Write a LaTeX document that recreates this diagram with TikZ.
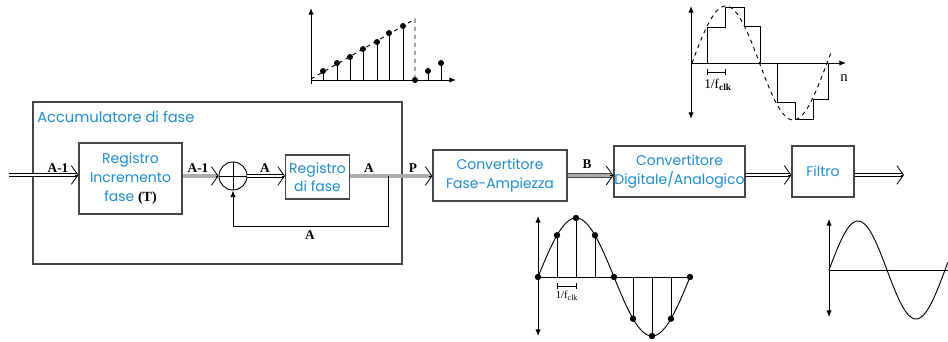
\documentclass[tikz,border=0pt]{standalone}
\usepackage{fontspec}
\setmainfont{Poppins}
\newfontfamily\seriffont{Liberation Serif}
\usetikzlibrary{arrows.meta,calc}
\definecolor{txtblue}{RGB}{30,140,210}
\definecolor{boxgray}{RGB}{70,70,70}
\begin{document}
\begin{tikzpicture}[x=0.75pt,y=-0.75pt,
  box/.style={draw=boxgray, line width=0.8pt, fill=white, text=txtblue, align=center, font=\fontsize{10.5}{14}\selectfont, inner sep=0pt},
  lbl/.style={font=\seriffont\bfseries\fontsize{10}{12}\selectfont, inner sep=0pt},
  hollow/.style={draw=black, line width=0.5pt, double=white, double distance=2pt},
  bus/.style={draw=gray!55!black, line width=0.5pt, double=gray!65, double distance=2.4pt},
  chev/.style={draw=black, line width=0.6pt, -{Straight Barb[length=5pt,width=14pt]}},
  ax/.style={line width=0.7pt, -{Latex[length=5pt,width=4pt]}},
  stem/.style={line width=0.7pt},
  clk/.style={font=\seriffont\fontsize{8}{9}\selectfont, inner sep=0pt},
]
\useasboundingbox (0,0) rectangle (948,342);

% ---------- block diagram ----------
\node[draw=boxgray, line width=0.8pt, minimum width=276.75pt, minimum height=121.5pt, inner sep=0pt] (acc) at (217.5,183) {};
\node[anchor=west, text=txtblue, font=\fontsize{11}{13}\selectfont, inner sep=0pt] (acctitle) at (37,117) {Accumulatore di fase};

\node[box, minimum width=77.25pt, minimum height=53.25pt] (inc) at (130.5,178.5) {Registro\\Incremento\\fase {\color{black}\seriffont\bfseries (T)}};
\node[circle, draw=black, line width=0.7pt, minimum size=21pt, inner sep=0pt,
  path picture={\draw[line width=0.6pt] (path picture bounding box.north) -- (path picture bounding box.south)
    (path picture bounding box.west) -- (path picture bounding box.east);}] (add) at (233,176) {};
\node[box, minimum width=48pt, minimum height=33pt, font=\fontsize{10.5}{13.5}\selectfont] (reg) at (317.5,177) {Registro\\di fase};
\node[box, minimum width=100.5pt, minimum height=38.25pt] (fa) at (500,175.5) {Convertitore\\Fase-Ampiezza};
\node[box, minimum width=98.25pt, minimum height=38.25pt] (da) at (679.5,171.5) {Convertitore\\Digitale/Analogico};
\node[box, minimum width=46.5pt, minimum height=38.25pt] (filt) at (823,171.5) {Filtro};

\coordinate (in) at (9,175);
\coordinate (out) at (904,175);
\coordinate (br) at (388,176);

\coordinate (t1) at (in -| inc.west);
\coordinate (t2) at (add.west);
\coordinate (t3) at (reg.west |- add);
\coordinate (t4) at (fa.west |- add);
\coordinate (t5) at (fa.east -| da.west);
\coordinate (t6) at (filt.west |- in);

\draw[hollow] (in) -- ($(t1)+(-1,0)$);
\draw[chev] ($(t1)+(-3,0)$) -- (t1);
\draw[bus] (inc.east |- add) -- ($(t2)+(-1,0)$);
\draw[chev] ($(t2)+(-3,0)$) -- (t2);
\draw[hollow] (add.east) -- ($(t3)+(-1,0)$);
\draw[chev] ($(t3)+(-3,0)$) -- (t3);
\draw[bus] (reg.east |- add) -- ($(t4)+(-1,0)$);
\draw[chev] ($(t4)+(-3,0)$) -- (t4);
\draw[line width=0.6pt, -{Latex[length=5pt,width=4pt]}] (br) -- ++(0,50) -| (add.south);
\draw[bus] (fa.east) -- ($(t5)+(-1,0)$);
\draw[chev] ($(t5)+(-3,0)$) -- (t5);
\draw[hollow] (da.east |- in) -- ($(t6)+(-1,0)$);
\draw[chev] ($(t6)+(-3,0)$) -- (t6);
\draw[hollow] (filt.east |- in) -- ($(out)+(-1,0)$);
\draw[chev] ($(out)+(-3,0)$) -- (out);

\node[lbl] (l1) at (58,168) {A-1};
\node[lbl] (l2) at (198,168) {A-1};
\node[lbl] (l3) at (265,168) {A};
\node[lbl] (l4) at (369,168) {A};
\node[lbl] (l5) at (413,168) {P};
\node[lbl] (l6) at (310,235) {A};
\node[lbl] (l7) at (587,164) {B};

% ---------- ramp graph ----------
\draw[ax] (311,84) -- (311,8);
\draw[ax] (311,80) -- (456,80);
\foreach \x/\y in {323/71,337/63,350/57,363/49,377/42,389/33,403/26,428/71,441/63}{
  \draw[stem] (\x,80) -- (\x,\y);
  \fill (\x,\y) circle (3);
}
\draw[dashed, line width=0.7pt] (311,79) -- (415,19) -- (415,80);
\fill (415,80) circle (3);

% ---------- staircase graph ----------
\draw[ax] (691,63) -- (691,6);
\draw[ax] (691,63) -- (691,119);
\draw[ax] (691,63) -- (846,63);
\draw[dashed, line width=0.7pt] plot[domain=0:372, samples=80, smooth] ({692+\x/360*135},{63-57*sin(\x)});
\draw[line width=0.6pt] (707,63) -- (707,27) -- (725,27) -- (725,7) -- (744,7) -- (744,26) -- (760,26) -- (760,63)
  (777,63) -- (777,102) -- (795,102) -- (795,119) -- (813,119) -- (813,99) -- (828,99) -- (828,63);
\draw[line width=0.6pt] (707,69) -- (707,75) (707,72) -- (725,72) (725,69) -- (725,75);
\node[clk, font=\seriffont\fontsize{10}{11}\selectfont] (c1) at (718,85) {1/f\textsubscript{\bfseries clk}};
\node[font=\seriffont\fontsize{11}{12}\selectfont, inner sep=0pt] (n) at (844,78) {n};

% ---------- sampled sine ----------
\draw[ax] (538,277) -- (538,216);
\draw[ax] (538,277) -- (538,336);
\draw[line width=0.7pt] (538,277) -- (690,277);
\draw[line width=0.7pt] plot[domain=0:360, samples=80, smooth] ({538+\x/360*152},{277-59*sin(\x)});
\foreach \k in {0,...,8}{
  \draw[stem] ({538+19*\k},277) -- ({538+19*\k},{277-59*sin(45*\k)});
  \fill ({538+19*\k},{277-59*sin(45*\k)}) circle (3.2);
}
\draw[line width=0.6pt] (557,283) -- (557,289) (557,286) -- (576,286) (576,283) -- (576,289);
\node[clk] (c2) at (567,296) {1/f\textsubscript{clk}};

% ---------- filtered sine ----------
\draw[ax] (829,270) -- (829,219);
\draw[ax] (829,270) -- (829,317);
\draw[line width=0.7pt] (829,270) -- (948,270);
\draw[line width=0.7pt] plot[domain=0:369, samples=80, smooth] ({829+\x/360*116},{270-49*sin(\x)});
\end{tikzpicture}
\end{document}
